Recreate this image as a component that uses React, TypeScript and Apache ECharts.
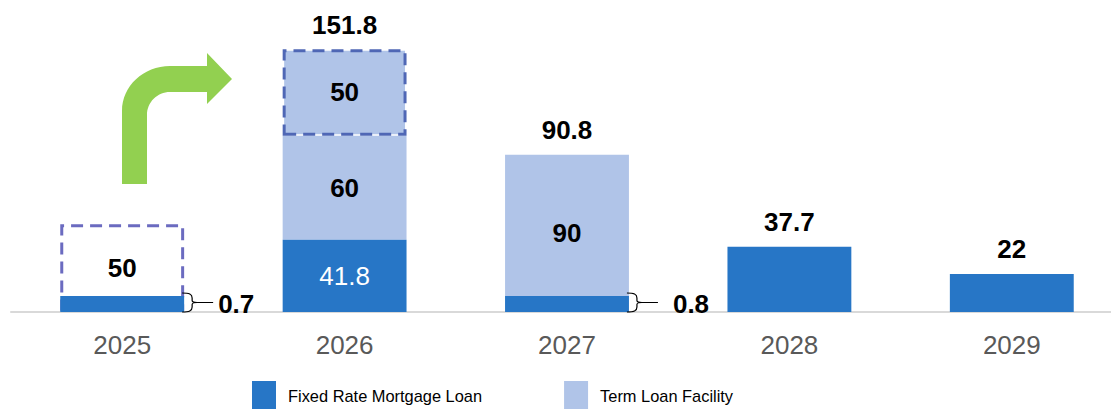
import React, { useEffect, useRef } from 'react';
import * as echarts from 'echarts';

const years = ['2025', '2026', '2027', '2028', '2029'];
const fixedRate = [0.7, 41.8, 0.8, 37.7, 22];
const termLoan = [null, 60, 90, null, null];
const planned = [50, 50, null, null, null];
const totals = [null, 151.8, 90.8, 37.7, 22];

const FONT = "'Liberation Sans', Arial, Helvetica, sans-serif";

const ARROW_D =
  'M122 184 L122 111 C122 86 143.5 66 170 66 L207 66 L207 53 L232 79 L207 104 L207 92 L170 92 C157.3 92 147 102.3 147 115 L147 184 Z';
const BRACE_D =
  'M0 0 C7 0 10 1 10 5 L10 7.5 C10 9 12 9.5 15 9.5 C12 9.5 10 10 10 11.5 L10 14 C10 18 7 19 0 19 M15 9.5 L31 9.5';

let registered = false;
function registerShapes() {
  if (registered) return;
  registered = true;
  echarts.graphic.registerShape('greenArrow', echarts.graphic.extendPath(ARROW_D, {}) as any);
  echarts.graphic.registerShape('brace', echarts.graphic.extendPath(BRACE_D, {}) as any);
}

const boldLabel = {
  show: true,
  position: 'inside',
  fontSize: 26,
  fontWeight: 'bold',
  color: '#000',
  fontFamily: FONT,
};

const DASH = [12, 7];

export default function App() {
  const ref = useRef<HTMLDivElement>(null);

  useEffect(() => {
    if (!ref.current) return;
    registerShapes();
    const chart = echarts.init(ref.current, null, { renderer: 'svg' });
    const BAR_RATIO = 0.557;

    const option: any = {
      animation: false,
      textStyle: { fontFamily: FONT },
      grid: { left: 11, width: 1112, top: 35, height: 277, outerBoundsMode: 'none', containLabel: false },
      legend: {
        data: ['Fixed Rate Mortgage Loan', 'Term Loan Facility'],
        left: 252,
        top: 381,
        padding: 0,
        icon: 'rect',
        itemWidth: 24,
        itemHeight: 30,
        itemGap: 82,
        selectedMode: false,
        textStyle: { fontSize: 16.4, color: '#000', fontFamily: FONT, padding: [0, 0, 0, 7] },
      },
      xAxis: {
        type: 'category',
        data: years,
        axisTick: { show: false },
        axisLine: { lineStyle: { color: '#D9D9D9', width: 2 } },
        axisLabel: { fontSize: 26, color: '#595959', margin: 20, fontFamily: FONT },
      },
      yAxis: { type: 'value', min: 0, max: 160, show: false },
      series: [
        {
          name: 'Fixed Rate Mortgage Loan',
          type: 'bar',
          stack: 'debt',
          barWidth: (BAR_RATIO * 100).toFixed(1) + '%',
          barMinHeight: 16,
          z: 3,
          itemStyle: { color: '#2776C6' },
          data: fixedRate.map((v, i) => {
            if (v < 5) {
              return {
                value: v,
                label: { ...boldLabel, position: 'right', distance: i === 0 ? 34 : 44 },
              };
            }
            if (i === 1) {
              return {
                value: v,
                label: { show: true, position: 'inside', fontSize: 26, color: '#fff', fontFamily: FONT },
              };
            }
            return { value: v, label: { show: false } };
          }),
        },
        {
          name: 'Term Loan Facility',
          type: 'bar',
          stack: 'debt',
          z: 2,
          itemStyle: { color: '#B0C4E8' },
          label: boldLabel,
          data: termLoan.map((v) => (v == null ? '-' : v)),
        },
        {
          name: 'Planned',
          type: 'bar',
          stack: 'debt',
          z: 2,
          itemStyle: { borderType: DASH, borderWidth: 3 },
          label: boldLabel,
          data: planned.map((v, i) =>
            v == null
              ? '-'
              : {
                  value: v,
                  itemStyle:
                    i === 0
                      ? { color: 'rgba(255,255,255,0)', borderColor: '#6B6BC0', borderType: DASH, borderWidth: 3 }
                      : { color: '#B0C4E8', borderColor: '#4F67B5', borderType: DASH, borderWidth: 3 },
                }
          ),
        },
        {
          name: 'Total',
          type: 'scatter',
          symbolSize: 1,
          z: 5,
          itemStyle: { color: 'rgba(0,0,0,0)', opacity: 1 },
          label: {
            show: true,
            position: 'top',
            distance: 11,
            fontSize: 26,
            fontWeight: 'bold',
            color: '#000',
            opacity: 1,
            fontFamily: FONT,
          },
          data: totals.map((v) => (v == null ? '-' : v)),
        },
      ],
    };
    chart.setOption(option);

    const x0 = chart.convertToPixel({ xAxisIndex: 0 }, 0) as number;
    const x1 = chart.convertToPixel({ xAxisIndex: 0 }, 1) as number;
    const halfW = ((x1 - x0) * BAR_RATIO) / 2;
    const axisY = chart.convertToPixel({ yAxisIndex: 0 }, 0) as number;

    const graphics: any[] = [
      { type: 'greenArrow', x: 0, y: 0, z: 10, style: { fill: '#92D050' } },
    ];
    fixedRate.forEach((v, i) => {
      if (v < 5) {
        const cx = chart.convertToPixel({ xAxisIndex: 0 }, i) as number;
        graphics.push({
          type: 'brace',
          x: cx + halfW - 2,
          y: axisY - 19,
          z: 10,
          style: { fill: 'none', stroke: '#000', lineWidth: 1.2 },
        });
      }
    });
    chart.setOption({ graphic: graphics });

    return () => chart.dispose();
  }, []);

  return (
    <div
      ref={ref}
      style={{ position: 'absolute', left: 0, top: 0, width: 1111, height: 409, background: '#fff' }}
    />
  );
}
